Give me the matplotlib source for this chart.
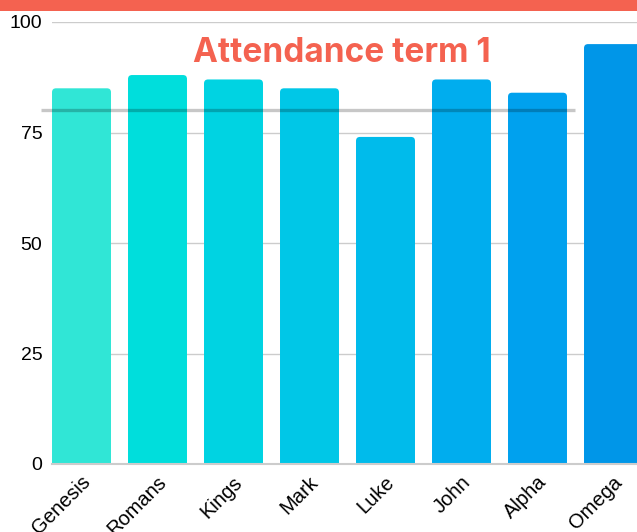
import matplotlib
matplotlib.use("Agg")
import matplotlib.pyplot as plt
import matplotlib.transforms as mtransforms
from matplotlib.patches import FancyBboxPatch, Rectangle

categories = ["Genesis", "Romans", "Kings", "Mark", "Luke", "John", "Alpha", "Omega"]
attendance = [85, 88, 87, 85, 74, 87, 84, 95]
target = 80
bar_colors = ["#30E6D6", "#00DEDC", "#00D3E2", "#00C7E7", "#00BBEB", "#00ADEE", "#00A1EE", "#0096E8"]
yticks = [0, 25, 50, 75, 100]
title = "Attendance term 1"

W, H = 637, 532
fig = plt.figure(figsize=(W / 100, H / 100), dpi=100)
fig.patch.set_facecolor("white")

left_px, right_px, top_px, bottom_px = 52, 637, 22, 464
ax = fig.add_axes([left_px / W, 1 - bottom_px / H, (right_px - left_px) / W, (bottom_px - top_px) / H])

bars = ax.bar(range(len(categories)), attendance, width=0.776, color=bar_colors)
xpx = 76.0
ypx = (bottom_px - top_px) / 100.0
r_px = 4.0
for b, c in zip(bars, bar_colors):
    b.set_visible(False)
    x0, w, h = b.get_x(), b.get_width(), b.get_height()
    p = FancyBboxPatch((x0, -10), w, h + 10,
                       boxstyle=f"round,pad=0,rounding_size={r_px / xpx}",
                       mutation_aspect=(r_px / ypx) / (r_px / xpx),
                       facecolor=c, edgecolor="none", zorder=2)
    ax.add_patch(p)

x_left = (left_px - 81.5) / 76
ax.set_xlim(x_left, (637 - 81.5) / 76)
ax.set_ylim(0, 100)
ax.tick_params(length=0)
ax.tick_params(axis="y", pad=7)
ax.tick_params(axis="x", pad=11)
ax.set_yticks(yticks)
ax.set_yticklabels([str(v) for v in yticks])
ax.set_xticks(range(len(categories)))
ax.set_xticklabels(categories, rotation=45, ha="right", va="center", rotation_mode="anchor",
                   fontsize=14.5, family="Liberation Sans")
offset = mtransforms.ScaledTranslation(6 / 100, 0, fig.dpi_scale_trans)
for lab in ax.get_xticklabels():
    lab.set_transform(lab.get_transform() + offset)
for lab in ax.get_yticklabels():
    lab.set_fontsize(14)
    lab.set_family("Liberation Sans")
ax.grid(axis="y", color="#CCCCCC", linewidth=1.0, zorder=0)
ax.set_axisbelow(True)
for s in ["top", "right", "left"]:
    ax.spines[s].set_visible(False)
ax.spines["bottom"].set_color("#CCCCCC")
ax.spines["bottom"].set_linewidth(1.5)
ax.spines["bottom"].set_zorder(3)

ax.hlines(target, (41 - 81.5) / 76, 6.49, color="black", alpha=0.22, linewidth=2.4,
          zorder=4, clip_on=False)

ax.text((341.5 - left_px) / (right_px - left_px), (bottom_px - 53.5) / (bottom_px - top_px), title,
        transform=ax.transAxes,
        ha="center", va="center", color="#F46250", fontsize=24, fontweight="bold",
        family="Inter", zorder=5)

fig.patches.append(Rectangle((0, 1 - 11 / H), 1, 11 / H, transform=fig.transFigure,
                             facecolor="#F46250", edgecolor="none", zorder=10))

fig.savefig("out.png", dpi=100)
